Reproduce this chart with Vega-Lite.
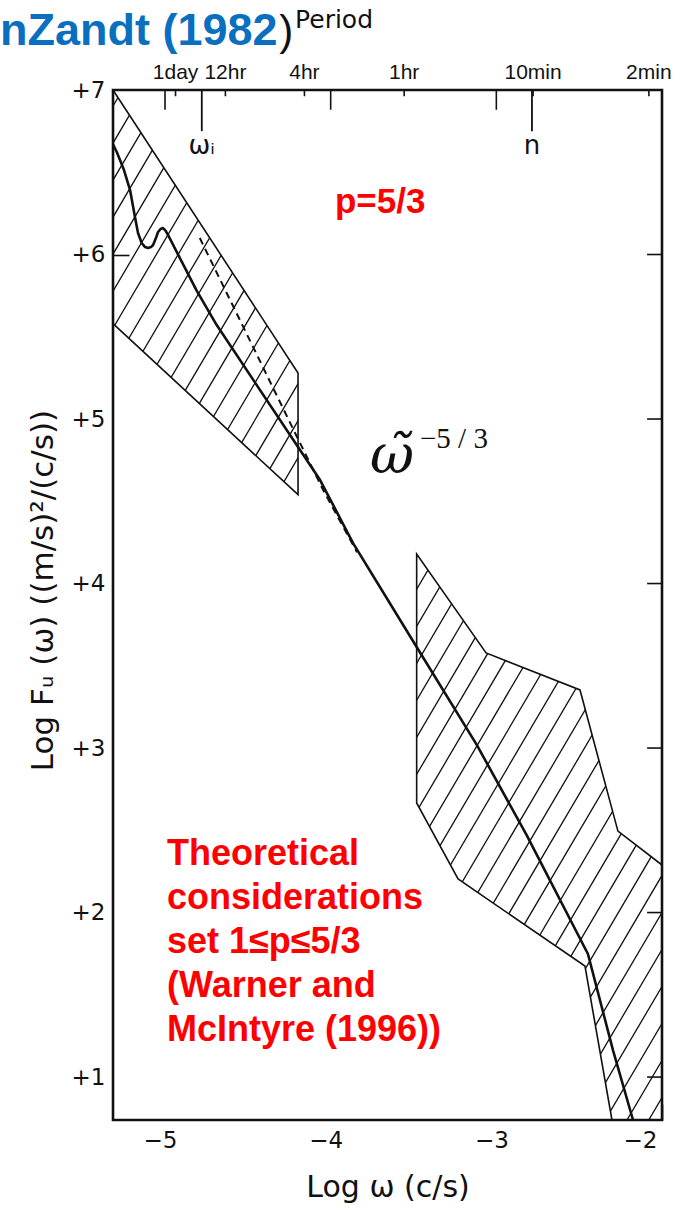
{
  "$schema": "https://vega.github.io/schema/vega-lite/v6.json",
  "width": 549,
  "height": 1030,
  "autosize": {"type": "none"},
  "padding": {"left": 113, "top": 90, "right": 21, "bottom": 90},
  "background": "white",
  "view": {"stroke": null},
  "config": {
    "axis": {
      "labelFont": "DejaVu Sans",
      "titleFont": "DejaVu Sans",
      "labelColor": "#111",
      "titleColor": "#111",
      "tickColor": "#111",
      "tickWidth": 1.6,
      "grid": false,
      "domain": false,
      "zindex": 1,
      "titleFontWeight": "normal"
    }
  },
  "datasets": {
    "hatch": [
      {"w": -5.4, "f": -4.945, "w2": -1.9, "f2": 1.047},
      {"w": -5.4, "f": -4.720, "w2": -1.9, "f2": 1.272},
      {"w": -5.4, "f": -4.495, "w2": -1.9, "f2": 1.497},
      {"w": -5.4, "f": -4.270, "w2": -1.9, "f2": 1.722},
      {"w": -5.4, "f": -4.045, "w2": -1.9, "f2": 1.947},
      {"w": -5.4, "f": -3.820, "w2": -1.9, "f2": 2.172},
      {"w": -5.4, "f": -3.595, "w2": -1.9, "f2": 2.397},
      {"w": -5.4, "f": -3.370, "w2": -1.9, "f2": 2.622},
      {"w": -5.4, "f": -3.145, "w2": -1.9, "f2": 2.847},
      {"w": -5.4, "f": -2.920, "w2": -1.9, "f2": 3.072},
      {"w": -5.4, "f": -2.695, "w2": -1.9, "f2": 3.297},
      {"w": -5.4, "f": -2.470, "w2": -1.9, "f2": 3.522},
      {"w": -5.4, "f": -2.245, "w2": -1.9, "f2": 3.747},
      {"w": -5.4, "f": -2.020, "w2": -1.9, "f2": 3.972},
      {"w": -5.4, "f": -1.795, "w2": -1.9, "f2": 4.197},
      {"w": -5.4, "f": -1.570, "w2": -1.9, "f2": 4.422},
      {"w": -5.4, "f": -1.345, "w2": -1.9, "f2": 4.647},
      {"w": -5.4, "f": -1.120, "w2": -1.9, "f2": 4.872},
      {"w": -5.4, "f": -0.895, "w2": -1.9, "f2": 5.097},
      {"w": -5.4, "f": -0.670, "w2": -1.9, "f2": 5.322},
      {"w": -5.4, "f": -0.445, "w2": -1.9, "f2": 5.547},
      {"w": -5.4, "f": -0.220, "w2": -1.9, "f2": 5.772},
      {"w": -5.4, "f": 0.005, "w2": -1.9, "f2": 5.997},
      {"w": -5.4, "f": 0.230, "w2": -1.9, "f2": 6.222},
      {"w": -5.4, "f": 0.455, "w2": -1.9, "f2": 6.447},
      {"w": -5.4, "f": 0.680, "w2": -1.9, "f2": 6.672},
      {"w": -5.4, "f": 2.705, "w2": -1.9, "f2": 8.697},
      {"w": -5.4, "f": 2.930, "w2": -1.9, "f2": 8.922},
      {"w": -5.4, "f": 3.155, "w2": -1.9, "f2": 9.147},
      {"w": -5.4, "f": 3.380, "w2": -1.9, "f2": 9.372},
      {"w": -5.4, "f": 3.605, "w2": -1.9, "f2": 9.597},
      {"w": -5.4, "f": 3.830, "w2": -1.9, "f2": 9.822},
      {"w": -5.4, "f": 4.055, "w2": -1.9, "f2": 10.047},
      {"w": -5.4, "f": 4.280, "w2": -1.9, "f2": 10.272},
      {"w": -5.4, "f": 4.505, "w2": -1.9, "f2": 10.497},
      {"w": -5.4, "f": 4.730, "w2": -1.9, "f2": 10.722},
      {"w": -5.4, "f": 4.955, "w2": -1.9, "f2": 10.947},
      {"w": -5.4, "f": 5.180, "w2": -1.9, "f2": 11.172},
      {"w": -5.4, "f": 5.405, "w2": -1.9, "f2": 11.397},
      {"w": -5.4, "f": 5.630, "w2": -1.9, "f2": 11.622},
      {"w": -5.4, "f": 5.855, "w2": -1.9, "f2": 11.847},
      {"w": -5.4, "f": 6.080, "w2": -1.9, "f2": 12.072},
      {"w": -5.4, "f": 6.305, "w2": -1.9, "f2": 12.297},
      {"w": -5.4, "f": 6.530, "w2": -1.9, "f2": 12.522},
      {"w": -5.4, "f": 6.755, "w2": -1.9, "f2": 12.747}
    ],
    "mask": [
      {"part": "up", "w": -5.4, "lo": 7.13, "hi": 7.6},
      {"part": "up", "w": -5.314, "lo": 7.0, "hi": 7.6},
      {"part": "up", "w": -4.197, "lo": 5.28, "hi": 7.6},
      {"part": "up", "w": -4.196, "lo": 0.5, "hi": 7.6},
      {"part": "up", "w": -3.482, "lo": 0.5, "hi": 7.6},
      {"part": "up", "w": -3.481, "lo": 4.179, "hi": 7.6},
      {"part": "up", "w": -3.062, "lo": 3.578, "hi": 7.6},
      {"part": "up", "w": -2.495, "lo": 3.353, "hi": 7.6},
      {"part": "up", "w": -2.266, "lo": 2.495, "hi": 7.6},
      {"part": "up", "w": -2.0, "lo": 2.289, "hi": 7.6},
      {"part": "up", "w": -1.9, "lo": 2.21, "hi": 7.6},
      {"part": "dn", "w": -5.4, "lo": 0.5, "hi": 5.66},
      {"part": "dn", "w": -5.314, "lo": 0.5, "hi": 5.58},
      {"part": "dn", "w": -4.197, "lo": 0.5, "hi": 4.54},
      {"part": "dn", "w": -4.196, "lo": 0.5, "hi": 7.6},
      {"part": "dn", "w": -3.482, "lo": 0.5, "hi": 7.6},
      {"part": "dn", "w": -3.481, "lo": 0.5, "hi": 2.666},
      {"part": "dn", "w": -3.231, "lo": 0.5, "hi": 2.204},
      {"part": "dn", "w": -2.465, "lo": 0.5, "hi": 1.675},
      {"part": "dn", "w": -2.302, "lo": 0.5, "hi": 0.739},
      {"part": "dn", "w": -2.26, "lo": 0.5, "hi": 0.5},
      {"part": "dn", "w": -1.9, "lo": 0.5, "hi": 0.5}
    ],
    "outline": [
      {"part": "L", "i": 0, "w": -5.314, "f": 7.0},
      {"part": "L", "i": 1, "w": -4.197, "f": 5.28},
      {"part": "L", "i": 2, "w": -4.197, "f": 4.54},
      {"part": "L", "i": 3, "w": -5.314, "f": 5.58},
      {"part": "R", "i": 0, "w": -2.0, "f": 2.289},
      {"part": "R", "i": 1, "w": -2.266, "f": 2.495},
      {"part": "R", "i": 2, "w": -2.495, "f": 3.353},
      {"part": "R", "i": 3, "w": -3.062, "f": 3.578},
      {"part": "R", "i": 4, "w": -3.481, "f": 4.179},
      {"part": "R", "i": 5, "w": -3.481, "f": 2.666},
      {"part": "R", "i": 6, "w": -3.231, "f": 2.204},
      {"part": "R", "i": 7, "w": -2.465, "f": 1.675},
      {"part": "R", "i": 8, "w": -2.302, "f": 0.739}
    ],
    "spectrum": [
      {"w": -5.314, "f": 6.67},
      {"w": -5.29, "f": 6.62},
      {"w": -5.25, "f": 6.52},
      {"w": -5.211, "f": 6.392},
      {"w": -5.18, "f": 6.22},
      {"w": -5.163, "f": 6.131},
      {"w": -5.141, "f": 6.07},
      {"w": -5.12, "f": 6.045},
      {"w": -5.103, "f": 6.04},
      {"w": -5.085, "f": 6.045},
      {"w": -5.072, "f": 6.058},
      {"w": -5.055, "f": 6.1},
      {"w": -5.042, "f": 6.137},
      {"w": -5.027, "f": 6.155},
      {"w": -5.012, "f": 6.161},
      {"w": -4.997, "f": 6.145},
      {"w": -4.982, "f": 6.119},
      {"w": -4.809, "f": 5.78},
      {"w": -4.688, "f": 5.571},
      {"w": -4.197, "f": 4.83},
      {"w": -4.064, "f": 4.629},
      {"w": -3.865, "f": 4.246},
      {"w": -3.481, "f": 3.614},
      {"w": -3.119, "f": 3.021},
      {"w": -2.817, "f": 2.471},
      {"w": -2.447, "f": 1.748},
      {"w": -2.296, "f": 1.164},
      {"w": -2.175, "f": 0.739}
    ],
    "dashed": [
      {"w": -4.79, "f": 6.1},
      {"w": -4.45, "f": 5.4},
      {"w": -4.203, "f": 4.891},
      {"w": -4.046, "f": 4.57},
      {"w": -3.841, "f": 4.19}
    ],
    "periods": [
      {"label": "1day", "w": -4.9365},
      {"label": "12hr", "w": -4.6355},
      {"label": "4hr", "w": -4.1584},
      {"label": "1hr", "w": -3.5563},
      {"label": "10min", "w": -2.7782},
      {"label": "2min", "w": -2.0792}
    ],
    "decades": [{"w": -5}, {"w": -4}, {"w": -3}],
    "freqs": [
      {"sym": "ωᵢ", "w": -4.778},
      {"sym": "n", "w": -2.785}
    ],
    "levels": [{"f": 1}, {"f": 2}, {"f": 3}, {"f": 4}, {"f": 5}, {"f": 6}],
    "notes": [
      {"key": "p", "txt": "p=5/3", "w": -3.974, "f": 6.252},
      {"key": "block", "txt": "Theoretical\nconsiderations\nset 1≤p≤5/3\n(Warner and\nMcIntyre (1996))", "w": -4.988, "f": 2.289},
      {"key": "omega", "txt": "ω̃", "w": -3.763, "f": 4.672},
      {"key": "exp", "txt": "−5 / 3", "w": -3.461, "f": 4.824},
      {"key": "head", "txt": "nZandt (1982", "w": -5.996, "f": 7.274},
      {"key": "paren", "txt": ")", "w": -4.31, "f": 7.274},
      {"key": "period", "txt": "Period", "w": -4.215, "f": 7.377}
    ]
  },
  "layer": [
    {
      "data": {"name": "hatch"},
      "mark": {"type": "rule", "clip": true, "color": "#111", "strokeWidth": 1.3},
      "encoding": {
        "x": {
          "field": "w", "type": "quantitative",
          "scale": {"domain": [-5.314, -2], "nice": false, "zero": false},
          "axis": {
            "values": [-5, -4, -3, -2],
            "labelExpr": "'−' + abs(datum.value)",
            "tickSize": -16,
            "labelPadding": 25,
            "labelFontSize": 23,
            "labelOffset": -5,
            "title": "Log ω (c/s)",
            "titleFontSize": 30,
            "titleBaseline": "alphabetic",
            "titleY": 76
          }
        },
        "y": {
          "field": "f", "type": "quantitative",
          "scale": {"domain": [0.739, 7], "nice": false, "zero": false},
          "axis": {
            "values": [1, 2, 3, 4, 5, 6, 7],
            "labelExpr": "'+' + datum.value",
            "tickSize": -16,
            "labelPadding": 24,
            "labelFontSize": 23,
            "title": "Log Fᵤ (ω) ((m/s)²/(c/s))",
            "titleFontSize": 31,
            "titleX": -54,
            "titleY": 500
          }
        },
        "x2": {"field": "w2"},
        "y2": {"field": "f2"}
      }
    },
    {
      "data": {"name": "mask"},
      "mark": {"type": "area", "clip": true, "color": "white", "opacity": 1},
      "encoding": {
        "x": {"field": "w", "type": "quantitative"},
        "y": {"field": "lo", "type": "quantitative"},
        "y2": {"field": "hi"},
        "detail": {"field": "part"}
      }
    },
    {
      "data": {"name": "outline"},
      "mark": {"type": "line", "color": "#111", "strokeWidth": 1.6},
      "encoding": {
        "x": {"field": "w", "type": "quantitative"},
        "y": {"field": "f", "type": "quantitative"},
        "detail": {"field": "part"},
        "order": {"field": "i"}
      }
    },
    {
      "data": {"name": "dashed"},
      "mark": {"type": "line", "color": "#111", "strokeWidth": 2, "strokeDash": [7, 5]},
      "encoding": {
        "x": {"field": "w", "type": "quantitative"},
        "y": {"field": "f", "type": "quantitative"}
      }
    },
    {
      "data": {"name": "spectrum"},
      "mark": {"type": "line", "color": "#111", "strokeWidth": 2.6, "strokeJoin": "round"},
      "encoding": {
        "x": {"field": "w", "type": "quantitative"},
        "y": {"field": "f", "type": "quantitative"}
      }
    },
    {
      "data": {"name": "periods"},
      "mark": {"type": "rule", "color": "#111", "strokeWidth": 1.6},
      "encoding": {
        "x": {"field": "w", "type": "quantitative"},
        "y": {"datum": 7},
        "y2": {"datum": 6.962}
      }
    },
    {
      "data": {"name": "periods"},
      "mark": {"type": "text", "font": "Liberation Sans", "fontSize": 21, "color": "#111", "align": "center", "baseline": "alphabetic", "dy": -11},
      "encoding": {
        "x": {"field": "w", "type": "quantitative"},
        "y": {"datum": 7},
        "text": {"field": "label"}
      }
    },
    {
      "data": {"name": "decades"},
      "mark": {"type": "rule", "color": "#111", "strokeWidth": 1.6},
      "encoding": {
        "x": {"field": "w", "type": "quantitative"},
        "y": {"datum": 7},
        "y2": {"datum": 6.88}
      }
    },
    {
      "data": {"name": "freqs"},
      "mark": {"type": "rule", "color": "#111", "strokeWidth": 1.8},
      "encoding": {
        "x": {"field": "w", "type": "quantitative"},
        "y": {"datum": 7},
        "y2": {"datum": 6.75}
      }
    },
    {
      "data": {"name": "freqs"},
      "mark": {"type": "text", "font": "DejaVu Sans", "fontSize": 26, "color": "#111", "align": "center", "baseline": "top", "dy": 43},
      "encoding": {
        "x": {"field": "w", "type": "quantitative"},
        "y": {"datum": 7},
        "text": {"field": "sym"}
      }
    },
    {
      "data": {"name": "levels"},
      "mark": {"type": "rule", "color": "#111", "strokeWidth": 1.6},
      "encoding": {
        "x": {"datum": -2},
        "x2": {"datum": -2.09},
        "y": {"field": "f", "type": "quantitative"}
      }
    },
    {
      "data": {"name": "notes"},
      "transform": [{"filter": "datum.key === 'p'"}],
      "mark": {"type": "text", "font": "Liberation Sans", "fontWeight": "bold", "fontSize": 35, "color": "#FF0000", "align": "left", "baseline": "alphabetic"},
      "encoding": {
        "x": {"field": "w", "type": "quantitative"},
        "y": {"field": "f", "type": "quantitative"},
        "text": {"field": "txt"}
      }
    },
    {
      "data": {"name": "notes"},
      "transform": [{"filter": "datum.key === 'block'"}],
      "mark": {"type": "text", "font": "Liberation Sans", "fontWeight": "bold", "fontSize": 36, "color": "#FF0000", "align": "left", "baseline": "alphabetic", "lineBreak": "\n", "lineHeight": 44},
      "encoding": {
        "x": {"field": "w", "type": "quantitative"},
        "y": {"field": "f", "type": "quantitative"},
        "text": {"field": "txt"}
      }
    },
    {
      "data": {"name": "notes"},
      "transform": [{"filter": "datum.key === 'omega'"}],
      "mark": {"type": "text", "font": "DejaVu Serif", "fontStyle": "italic", "fontSize": 54, "color": "#111", "align": "left", "baseline": "alphabetic"},
      "encoding": {
        "x": {"field": "w", "type": "quantitative"},
        "y": {"field": "f", "type": "quantitative"},
        "text": {"field": "txt"}
      }
    },
    {
      "data": {"name": "notes"},
      "transform": [{"filter": "datum.key === 'exp'"}],
      "mark": {"type": "text", "font": "Liberation Serif", "fontSize": 29, "color": "#111", "align": "left", "baseline": "alphabetic"},
      "encoding": {
        "x": {"field": "w", "type": "quantitative"},
        "y": {"field": "f", "type": "quantitative"},
        "text": {"field": "txt"}
      }
    },
    {
      "data": {"name": "notes"},
      "transform": [{"filter": "datum.key === 'head'"}],
      "mark": {"type": "text", "font": "Liberation Sans", "fontWeight": "bold", "fontSize": 45, "color": "#0B6FBF", "align": "left", "baseline": "alphabetic"},
      "encoding": {
        "x": {"field": "w", "type": "quantitative"},
        "y": {"field": "f", "type": "quantitative"},
        "text": {"field": "txt"}
      }
    },
    {
      "data": {"name": "notes"},
      "transform": [{"filter": "datum.key === 'paren'"}],
      "mark": {"type": "text", "font": "Liberation Sans", "fontSize": 42, "color": "#111", "align": "left", "baseline": "alphabetic"},
      "encoding": {
        "x": {"field": "w", "type": "quantitative"},
        "y": {"field": "f", "type": "quantitative"},
        "text": {"field": "txt"}
      }
    },
    {
      "data": {"name": "notes"},
      "transform": [{"filter": "datum.key === 'period'"}],
      "mark": {"type": "text", "font": "DejaVu Sans", "fontSize": 25, "color": "#111", "align": "left", "baseline": "alphabetic"},
      "encoding": {
        "x": {"field": "w", "type": "quantitative"},
        "y": {"field": "f", "type": "quantitative"},
        "text": {"field": "txt"}
      }
    },
    {
      "data": {"values": [{}]},
      "mark": {"type": "rect", "fill": null, "stroke": "#111", "strokeWidth": 2.6},
      "encoding": {
        "x": {"datum": -5.314},
        "x2": {"datum": -2},
        "y": {"datum": 7},
        "y2": {"datum": 0.739}
      }
    }
  ]
}
